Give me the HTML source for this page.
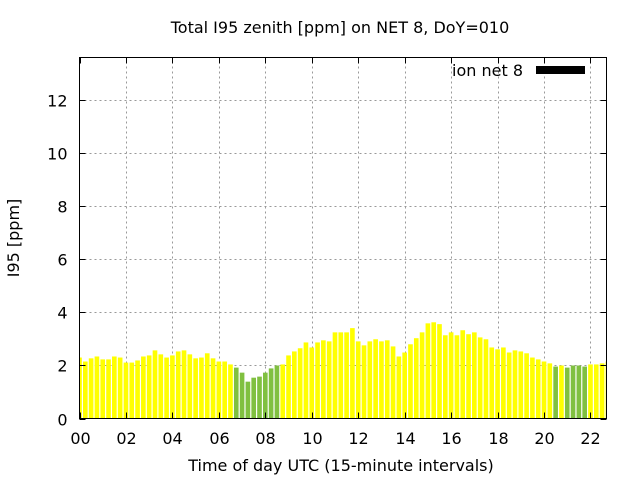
<!DOCTYPE html>
<html><head><meta charset="utf-8"><style>
body{margin:0;background:#fff}
svg{display:block;font-family:"DejaVu Sans","Liberation Sans",sans-serif}
</style></head><body>
<svg id="chart" width="640" height="480" xmlns="http://www.w3.org/2000/svg">
<rect width="640" height="480" fill="#fff"/>
<text x="340" y="33" text-anchor="middle" font-size="16">Total I95 zenith [ppm] on NET 8, DoY=010</text>
<g id="grid"></g>
<g id="bars"></g>
<g id="axes"></g>
<rect x="79.5" y="57.5" width="527" height="361" fill="none" stroke="#000" stroke-width="1"/>
<g>
<text x="523" y="76" text-anchor="end" font-size="16">ion net 8</text>
<rect x="536" y="66" width="49" height="8" fill="#000"/>
</g>
<text x="341" y="471" text-anchor="middle" font-size="16">Time of day UTC (15-minute intervals)</text>
<text x="19" y="238" text-anchor="middle" font-size="16" transform="rotate(-90 19 238)">I95 [ppm]</text>
</svg>
<script>
const values = [2.30,2.15,2.27,2.34,2.23,2.23,2.34,2.30,2.11,2.11,2.19,2.34,2.38,2.57,2.42,2.30,2.38,2.53,2.57,2.42,2.27,2.30,2.46,2.27,2.15,2.15,2.04,1.92,1.73,1.39,1.54,1.58,1.73,1.89,2.00,2.04,2.38,2.53,2.65,2.87,2.68,2.87,2.95,2.91,3.25,3.25,3.25,3.41,2.91,2.76,2.91,2.99,2.91,2.95,2.72,2.34,2.49,2.80,3.03,3.25,3.59,3.63,3.56,3.14,3.25,3.14,3.33,3.18,3.25,3.06,2.99,2.68,2.61,2.68,2.49,2.57,2.53,2.46,2.30,2.23,2.15,2.08,1.96,2.00,1.92,2.00,2.00,1.96,2.04,2.04,2.08,2.15];
const greenIdx = [27,28,29,30,31,32,33,34,82,84,85,86,87];
const xTicks = ["00","02","04","06","08","10","12","14","16","18","20","22"];
const yTicks = [0,2,4,6,8,10,12];
const X0=79.5,X1=606.5,Y0=418.5,Y1=57.5,XMAX=22.69,YMAX=13.62;
const xs=h=>X0+h/XMAX*(X1-X0);
const ys=v=>Y0-v/YMAX*(Y0-Y1);
const NS="http://www.w3.org/2000/svg";
const grid=document.getElementById('grid'),bars=document.getElementById('bars'),axes=document.getElementById('axes');
function mk(tag,attrs,parent){const e=document.createElementNS(NS,tag);for(const k in attrs)e.setAttribute(k,attrs[k]);parent.appendChild(e);return e;}
yTicks.forEach(v=>{
 const y=Math.round(ys(v))+0.5;
 if(v>0){const g=mk('line',{x1:X0,x2:X1,y1:y,y2:y,stroke:'#999','stroke-dasharray':'2,3'},grid);
 
 }
 const t=mk('line',{x1:X0,x2:X0+6,y1:y,y2:y,stroke:'#000'},axes);
 
 
 const t2=mk('line',{x1:X1-6,x2:X1,y1:y,y2:y,stroke:'#000'},axes);
 
 
 const l=mk('text',{x:X0-12,y:y+6,'text-anchor':'end','font-size':16},axes);l.textContent=v;
 
 
});
xTicks.forEach(s=>{
 const x=Math.round(xs(+s))+0.5;
 if(+s>0){const g=mk('line',{x1:x,x2:x,y1:Y0,y2:Y1,stroke:'#999','stroke-dasharray':'2,3'},grid);
 
 }
 const t=mk('line',{x1:x,x2:x,y1:Y0,y2:Y0-6,stroke:'#000'},axes);
 
 
 const t2=mk('line',{x1:x,x2:x,y1:Y1,y2:Y1+6,stroke:'#000'},axes);
 
 
 const l=mk('text',{x:x,y:444,'text-anchor':'middle','font-size':16},axes);l.textContent=s;
 
 
});
const bw=(xs(0.25)-xs(0))*0.8;
values.forEach((v,i)=>{
 const cx=xs(i*0.25);
 let x=cx-bw/2,w=bw;
 if(x<X0){w-=X0-x;x=X0;}
 if(x+w>X1){w=X1-x;}
 if(w<=0)return;
 const r=mk('rect',{x:x,y:ys(v),width:w,height:Y0-ys(v),fill:greenIdx.includes(i)?'#80c040':'#ffff00'},bars);
 
 
});
</script>
</body></html>
